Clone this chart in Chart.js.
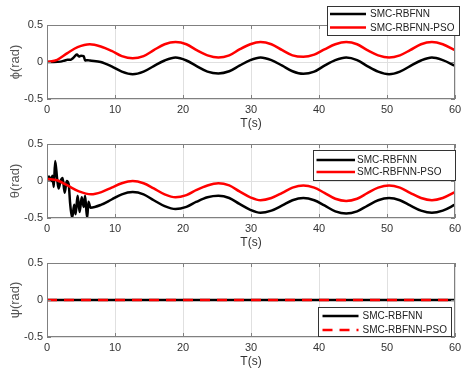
<!DOCTYPE html>
<html>
<head>
<meta charset="utf-8">
<script src="https://cdn.jsdelivr.net/npm/chart.js@4/dist/chart.umd.min.js"></script>
<style>
html,body{margin:0;padding:0;background:#fff;}
#wrap{position:relative;width:468px;height:374px;overflow:hidden;background:#fff;}
canvas{position:absolute;left:0;}
</style>
</head>
<body>
<div id="wrap">
<canvas id="c1" width="468" height="131" style="top:0px"></canvas>
<canvas id="c2" width="468" height="131" style="top:119px"></canvas>
<canvas id="c3" width="468" height="131" style="top:238px"></canvas>
</div>
<script>
// ---------------- DATA ----------------
const xTicks = [0, 10, 20, 30, 40, 50, 60];
const yTicks = [-0.5, 0, 0.5];
const seriesNames = ['SMC-RBFNN', 'SMC-RBFNN-PSO'];
const yTitles = ['\u03D5(rad)', '\u03B8(rad)', '\u03C8(rad)'];
const xTitle = 'T(s)';

// phi, SMC-RBFNN
const tPhiSMC = [0,1,2,2.6,3,3.5,3.8,4.1,4.4,4.7,5.0,5.4,5.6,6.0,6.3,7.9,9.5,11,12.6,14.2,15.7,17.3,18.9,20.5,22,23.6,25.2,26.8,28.3,29.9,31.4,33,34.6,36.1,37.7,39.3,40.8,42.4,44,45.6,47.1,48.7,50.3,51.9,53.4,55,56.6,58.2,60];
const phiSMC = [0,0,0.005,0.02,0.03,0.03,0.05,0.08,0.1,0.075,0.085,0.08,0.02,0.025,0.02,0.0,-0.06,-0.13,-0.165,-0.13,-0.055,0.02,0.06,0.02,-0.055,-0.13,-0.155,-0.125,-0.05,0.025,0.06,0.025,-0.05,-0.125,-0.16,-0.13,-0.05,0.025,0.06,0.025,-0.055,-0.13,-0.165,-0.13,-0.055,0.02,0.06,0.025,-0.05];
// phi, SMC-RBFNN-PSO
const tPhiPSO = [0,1.5,3,4.5,6.3,7.9,9.5,11,12.6,14.2,15.7,17.3,18.9,20.5,22,23.6,25.2,26.8,28.3,29.9,31.4,33,34.6,36.1,37.7,39.3,40.8,42.4,44,45.6,47.1,48.7,50.3,51.9,53.4,55,56.6,58.2,60];
const phiPSO = [0,0.03,0.12,0.2,0.24,0.21,0.15,0.08,0.05,0.08,0.16,0.24,0.27,0.24,0.16,0.09,0.06,0.09,0.17,0.24,0.27,0.24,0.16,0.09,0.07,0.1,0.17,0.24,0.27,0.24,0.16,0.09,0.06,0.09,0.16,0.24,0.27,0.24,0.16];

// theta, SMC-RBFNN
const tThetaSMC = [0,0.3,0.6,0.8,1.0,1.2,1.5,1.7,2.0,2.3,2.6,2.9,3.2,3.4,3.7,4.0,4.2,4.5,4.8,5.1,5.4,5.6,5.9,6.1,6.4,8,9.5,11,12.6,14.2,15.7,17.3,18.9,20.5,22,23.6,25.2,26.8,28.3,29.9,31.4,33,34.6,36.1,37.7,39.3,40.8,42.4,44,45.6,47.1,48.7,50.3,51.9,53.4,55,56.6,58.2,60];
const thetaSMC = [0,0.06,0.0,0.07,-0.08,0.27,0.02,-0.1,0.0,0.04,-0.16,0.0,-0.05,-0.3,-0.5,-0.32,-0.45,-0.2,-0.42,-0.22,-0.35,-0.2,-0.5,-0.28,-0.36,
  -0.32,-0.25,-0.18,-0.15,-0.18,-0.26,-0.34,-0.38,-0.35,-0.28,-0.22,-0.2,-0.23,-0.31,-0.39,-0.43,-0.4,-0.33,-0.26,-0.23,-0.26,-0.33,-0.41,-0.44,-0.41,-0.335,-0.26,-0.23,-0.26,-0.33,-0.4,-0.43,-0.4,-0.32];
// theta, SMC-RBFNN-PSO
const tThetaPSO = [0,1.5,3,4.7,6.5,8,9.5,11,12.6,14.2,15.7,17.3,18.9,20.5,22,23.6,25.2,26.8,28.3,29.9,31.4,33,34.6,36.1,37.7,39.3,40.8,42.4,44,45.6,47.1,48.7,50.3,51.9,53.4,55,56.6,58.2,60];
const thetaPSO = [0.03,0.01,-0.06,-0.14,-0.18,-0.15,-0.09,-0.03,0.0,-0.03,-0.1,-0.18,-0.22,-0.19,-0.12,-0.06,-0.03,-0.06,-0.14,-0.22,-0.26,-0.23,-0.16,-0.09,-0.06,-0.09,-0.16,-0.24,-0.27,-0.24,-0.165,-0.09,-0.06,-0.09,-0.16,-0.23,-0.26,-0.23,-0.15];

// psi
const tPsi = [0, 60];
const psiSMC = [0, 0];
const psiPSO = [0, 0];

// ---------------- RENDERING ----------------
const FONT = '"Liberation Sans", Arial, Helvetica, sans-serif';
const pts = (t, v) => t.map((x, i) => ({x: x, y: v[i]}));

const boxPlugin = {
  id: 'boxAxes',
  afterDatasetsDraw(chart) {
    const {ctx, chartArea: a, scales: {x, y}} = chart;
    ctx.save();
    ctx.strokeStyle = '#808080';
    ctx.lineWidth = 1;
    ctx.setLineDash([]);
    ctx.strokeRect(a.left + 0.5, a.top + 0.5, a.right - a.left - 1, a.bottom - a.top - 1);
    ctx.beginPath();
    x.ticks.forEach(t => {
      const px = Math.round(x.getPixelForValue(t.value)) + 0.5;
      ctx.moveTo(px, a.bottom); ctx.lineTo(px, a.bottom - 4);
      ctx.moveTo(px, a.top); ctx.lineTo(px, a.top + 4);
    });
    y.ticks.forEach(t => {
      const py = Math.round(y.getPixelForValue(t.value)) + 0.5;
      ctx.moveTo(a.left, py); ctx.lineTo(a.left + 4, py);
      ctx.moveTo(a.right, py); ctx.lineTo(a.right - 4, py);
    });
    ctx.stroke();
    ctx.restore();
  }
};

const legendPlugin = {
  id: 'boxLegend',
  afterDraw(chart, args, o) {
    const ctx = chart.ctx;
    ctx.save();
    ctx.fillStyle = '#fff';
    ctx.fillRect(o.x, o.y, o.w, o.h);
    ctx.strokeStyle = '#333';
    ctx.lineWidth = 1;
    ctx.strokeRect(o.x + 0.5, o.y + 0.5, o.w, o.h);
    chart.data.datasets.forEach((ds, i) => {
      const yy = o.rows[i];
      ctx.strokeStyle = ds.borderColor;
      ctx.lineWidth = 2.5;
      ctx.setLineDash(ds.borderDash || []);
      ctx.beginPath();
      ctx.moveTo(o.x1, yy); ctx.lineTo(o.x2, yy);
      ctx.stroke();
      ctx.setLineDash([]);
      ctx.fillStyle = '#222';
      ctx.font = '10px ' + FONT;
      ctx.textBaseline = 'middle';
      ctx.textAlign = 'left';
      ctx.fillText(ds.label, o.tx, yy + 0.5);
    });
    ctx.restore();
  }
};

function makeChart(id, datasets, yTitle, legend) {
  return new Chart(document.getElementById(id), {
    type: 'line',
    data: { datasets: datasets },
    options: {
      responsive: false,
      animation: false,
      events: [],
      layout: { padding: { top: 25, left: 0, right: 13, bottom: 0 } },
      elements: {
        point: { radius: 0 },
        line: { cubicInterpolationMode: 'monotone', borderWidth: 2.5, borderCapStyle: 'butt' }
      },
      plugins: {
        legend: { display: false },
        tooltip: { enabled: false },
        boxLegend: legend
      },
      scales: {
        x: {
          type: 'linear', min: xTicks[0], max: xTicks[xTicks.length - 1],
          afterBuildTicks: s => { s.ticks = xTicks.map(v => ({value: v})); },
          ticks: { padding: 4, color: '#333', font: { family: FONT, size: 11 }, maxRotation: 0 },
          grid: { color: '#e0e0e0', drawTicks: false, lineWidth: 1 },
          border: { display: false },
          title: { display: true, text: xTitle, color: '#333', font: { family: FONT, size: 12 }, padding: { top: 0, bottom: 0 } },
          afterFit: s => { s.height = 32; }
        },
        y: {
          type: 'linear', min: yTicks[0], max: yTicks[yTicks.length - 1],
          afterBuildTicks: s => { s.ticks = yTicks.map(v => ({value: v})); },
          ticks: { padding: 4, color: '#333', font: { family: FONT, size: 11 } },
          grid: { color: '#e0e0e0', drawTicks: false, lineWidth: 1 },
          border: { display: false },
          title: { display: true, text: yTitle, color: '#555', font: { family: FONT, size: 13 }, padding: { top: 8, bottom: 0 } },
          afterFit: s => { s.width = 47; }
        }
      }
    },
    plugins: [boxPlugin, legendPlugin]
  });
}

// order: lower value is drawn on top, so the red series lies over the black one
makeChart('c1', [
  { label: seriesNames[0], data: pts(tPhiSMC, phiSMC), borderColor: '#000', order: 1 },
  { label: seriesNames[1], data: pts(tPhiPSO, phiPSO), borderColor: '#ff0000', order: 0 }
], yTitles[0], { x: 327, y: 6, w: 132, h: 29, x1: 330, x2: 366, tx: 370, rows: [14, 27.5] });

makeChart('c2', [
  { label: seriesNames[0], data: pts(tThetaSMC, thetaSMC), borderColor: '#000', order: 1 },
  { label: seriesNames[1], data: pts(tThetaPSO, thetaPSO), borderColor: '#ff0000', order: 0 }
], yTitles[1], { x: 313, y: 31, w: 142, h: 30, x1: 316.5, x2: 355, tx: 357, rows: [41, 53] });

makeChart('c3', [
  { label: seriesNames[0], data: pts(tPsi, psiSMC), borderColor: '#000', borderWidth: 2.5, order: 1 },
  { label: seriesNames[1], data: pts(tPsi, psiPSO), borderColor: '#ff0000', borderWidth: 2.5, borderDash: [10, 7], order: 0 }
], yTitles[2], { x: 318, y: 69, w: 133, h: 29, x1: 322.5, x2: 358.5, tx: 362.5, rows: [78, 92] });
</script>
</body>
</html>
